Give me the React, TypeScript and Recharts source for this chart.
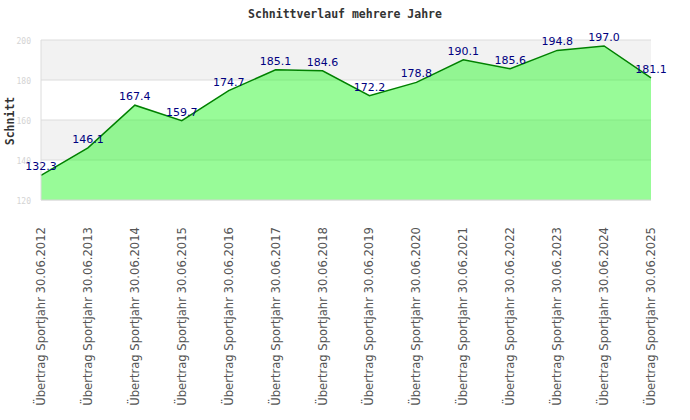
import { AreaChart, Area, XAxis, YAxis, CartesianGrid, LabelList } from 'recharts';

const seasons = [
  '30.06.2012', '30.06.2013', '30.06.2014', '30.06.2015', '30.06.2016', '30.06.2017', '30.06.2018',
  '30.06.2019', '30.06.2020', '30.06.2021', '30.06.2022', '30.06.2023', '30.06.2024', '30.06.2025',
];
const schnitt = [132.3, 146.1, 167.4, 159.7, 174.7, 185.1, 184.6, 172.2, 178.8, 190.1, 185.6, 194.8, 197.0, 181.1];
const yTicks = [120, 140, 160, 180, 200];

const data = seasons.map((s, i) => ({ label: `Übertrag Sportjahr ${s}`, value: schnitt[i] }));

const mono = '"DejaVu Sans Mono", monospace';
const sans = '"DejaVu Sans", sans-serif';

function XTick({ x, y, payload }: any) {
  return (
    <text
      transform={`translate(${x + 4},${y + 19}) rotate(-90)`}
      textAnchor="end"
      fontSize={11.6}
      fontFamily={sans}
      fill="#555"
    >
      {payload.value}
    </text>
  );
}

function YTick({ y, payload }: any) {
  return (
    <text x={31} y={y + 4} textAnchor="end" fontSize={8} fontFamily={mono} fill="#d4d4d4">
      {payload.value}
    </text>
  );
}

function ValueLabel({ x, y, value }: any) {
  return (
    <text x={x} y={y - 5} textAnchor="middle" fontSize={11} fontFamily={sans} fill="#000080">
      {Number(value).toFixed(1)}
    </text>
  );
}

export default function App() {
  return (
    <div style={{ position: 'absolute', left: 0, top: 0, width: 690, height: 420, background: '#fff' }}>
      <div
        style={{
          position: 'absolute', left: 0, top: 6, width: 690, textAlign: 'center',
          fontFamily: mono, fontWeight: 'bold', fontSize: 11.5, color: '#333', lineHeight: '16px',
        }}
      >
        Schnittverlauf mehrere Jahre
      </div>
      <div
        style={{
          position: 'absolute', left: 9.5, top: 121, transform: 'translate(-50%, -50%) rotate(-90deg)',
          fontFamily: mono, fontWeight: 'bold', fontSize: 11.5, color: '#333', whiteSpace: 'nowrap',
        }}
      >
        Schnitt
      </div>
      <AreaChart width={690} height={420} data={data} margin={{ top: 40, right: 39, left: 0, bottom: 0 }}>
        <CartesianGrid
          vertical={false}
          stroke="#dcdcdc"
          horizontalFill={['#f2f2f2', '#ffffff']}
          fillOpacity={1}
        />
        <XAxis
          dataKey="label"
          interval={0}
          height={220}
          tickLine={false}
          axisLine={{ stroke: '#dcdcdc' }}
          tick={<XTick />}
        />
        <YAxis
          domain={[120, 200]}
          ticks={yTicks}
          width={41}
          tickLine={false}
          axisLine={{ stroke: '#dcdcdc' }}
          tick={<YTick />}
        />
        <YAxis
          yAxisId="r"
          orientation="right"
          domain={[120, 200]}
          width={0}
          tick={false}
          tickLine={false}
          axisLine={{ stroke: '#dcdcdc' }}
        />
        <Area
          type="linear"
          dataKey="value"
          stroke="#008000"
          strokeWidth={1.5}
          fill="#31f731"
          fillOpacity={0.5}
          dot={false}
          activeDot={false}
          isAnimationActive={false}
        >
          <LabelList dataKey="value" content={<ValueLabel />} />
        </Area>
      </AreaChart>
    </div>
  );
}
